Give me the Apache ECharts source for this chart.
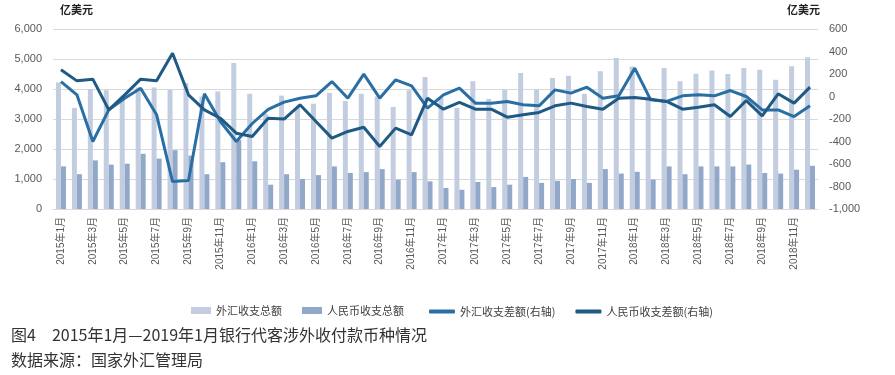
<!DOCTYPE html>
<html><head><meta charset="utf-8">
<script src="https://cdn.jsdelivr.net/npm/echarts@6/dist/echarts.min.js"></script>
<style>html,body{margin:0;padding:0;background:#fff}#c{width:895px;height:375px}</style>
</head><body><div id="c"></div>
<script>
const categories = [
  '2015年1月','2015年2月','2015年3月','2015年4月','2015年5月','2015年6月','2015年7月','2015年8月','2015年9月','2015年10月','2015年11月','2015年12月',
  '2016年1月','2016年2月','2016年3月','2016年4月','2016年5月','2016年6月','2016年7月','2016年8月','2016年9月','2016年10月','2016年11月','2016年12月',
  '2017年1月','2017年2月','2017年3月','2017年4月','2017年5月','2017年6月','2017年7月','2017年8月','2017年9月','2017年10月','2017年11月','2017年12月',
  '2018年1月','2018年2月','2018年3月','2018年4月','2018年5月','2018年6月','2018年7月','2018年8月','2018年9月','2018年10月','2018年11月','2018年12月'
];
// 外汇收支总额 (left axis)
const fxTotal = [4220,3370,4000,3960,3700,4050,4050,3980,4200,3750,3920,4870,
                 3840,3170,3780,3400,3510,3870,3600,3840,3750,3400,3960,4400,
                 3700,3370,4260,3670,3980,4530,3980,4370,4440,3840,4590,5030,
                 4750,3750,4700,4260,4510,4620,4500,4700,4640,4310,4760,5060];
// 人民币收支总额 (left axis)
const rmbTotal = [1420,1160,1620,1480,1510,1840,1680,1960,1780,1160,1560,2300,
                  1590,810,1160,1000,1130,1420,1200,1230,1330,980,1230,920,
                  700,640,900,730,810,1070,870,940,1000,870,1330,1180,
                  1240,980,1420,1160,1420,1420,1420,1480,1200,1180,1310,1440];
// 外汇收支差额 (right axis)
const fxBalance = [133,15,-400,-119,-15,74,-163,-756,-747,24,-222,-400,
                   -240,-115,-50,-15,6,133,-15,199,-15,148,95,-104,
                   15,74,-59,-59,-44,-74,-83,59,30,83,-15,6,
                   252,-30,-44,6,15,6,53,0,-119,-119,-178,-83];
// 人民币收支差额 (right axis)
const rmbBalance = [237,139,154,-119,15,154,139,385,15,-119,-193,-326,
                    -356,-193,-201,-74,-222,-370,-311,-273,-444,-281,-341,-15,
                    -113,-53,-113,-113,-184,-163,-142,-83,-59,-89,-113,-15,
                    -9,-24,-44,-113,-95,-74,-178,-36,-172,24,-59,83];
const leftAxis = {min: 0, max: 6000, interval: 1000};
const rightAxis = {min: -1000, max: 600, interval: 200};
const seriesNames = ['外汇收支总额','人民币收支总额','外汇收支差额(右轴)','人民币收支差额(右轴)'];
const unitText = '亿美元';
const captionTitle = '图4　2015年1月—2019年1月银行代客涉外收付款币种情况';
const captionSource = '数据来源：国家外汇管理局';

const FONT = 'Liberation Sans, Noto Sans CJK SC, sans-serif';
const CJK = 'Noto Sans CJK SC, sans-serif';
const chart = echarts.init(document.getElementById('c'), null, {renderer: 'canvas'});
const fmt = v => v.toLocaleString('en-US');
const legendText = {fontSize: 11, color: '#404040', fontFamily: CJK};
chart.setOption({
  animation: false,
  backgroundColor: '#fff',
  grid: {left: 53, right: 77, top: 29, bottom: 166, containLabel: false},
  title: [
    {text: captionTitle, left: 6, top: 322, textStyle: {fontSize: 16, fontWeight: 'normal', color: '#333', fontFamily: CJK}},
    {text: captionSource, left: 6, top: 347, textStyle: {fontSize: 16, fontWeight: 'normal', color: '#333', fontFamily: CJK}}
  ],
  graphic: [
    {type: 'text', left: 60, top: 4, style: {text: unitText, font: 'bold 11px Noto Sans CJK SC', fill: '#222'}},
    {type: 'text', left: 787, top: 4, style: {text: unitText, font: 'bold 11px Noto Sans CJK SC', fill: '#222'}}
  ],
  legend: [
    {left: 186, top: 300, itemWidth: 20, itemHeight: 7, itemGap: 20, textStyle: legendText,
     data: [{name: seriesNames[0], icon: 'rect'}, {name: seriesNames[1], icon: 'rect'}]},
    {left: 424, top: 301, itemWidth: 26, itemHeight: 4, itemGap: 20, textStyle: legendText,
     data: [{name: seriesNames[2], icon: 'roundRect'}, {name: seriesNames[3], icon: 'roundRect'}]}
  ],
  xAxis: {
    type: 'category', data: categories, boundaryGap: true,
    axisLine: {lineStyle: {color: '#d9d9d9', width: 1}},
    axisTick: {show: false},
    axisLabel: {interval: 1, rotate: 90, fontSize: 10, color: '#595959', fontFamily: FONT, margin: 8}
  },
  yAxis: [
    {type: 'value', min: leftAxis.min, max: leftAxis.max, interval: leftAxis.interval,
     axisLine: {show: false}, axisTick: {show: false},
     axisLabel: {fontSize: 11, color: '#595959', fontFamily: FONT, formatter: fmt, margin: 11},
     splitLine: {lineStyle: {color: '#d9d9d9', width: 1}}},
    {type: 'value', min: rightAxis.min, max: rightAxis.max, interval: rightAxis.interval,
     axisLine: {show: false}, axisTick: {show: false},
     axisLabel: {fontSize: 11, color: '#595959', fontFamily: FONT, formatter: fmt, margin: 11},
     splitLine: {show: false}}
  ],
  series: [
    {name: seriesNames[0], type: 'bar', data: fxTotal, barWidth: 5, barGap: '0%', itemStyle: {color: '#c3cde0'}},
    {name: seriesNames[1], type: 'bar', data: rmbTotal, barWidth: 5, barGap: '0%', itemStyle: {color: '#91a8c9'}},
    {name: seriesNames[2], type: 'line', yAxisIndex: 1, data: fxBalance, symbol: 'none', z: 5,
     lineStyle: {color: '#2a6fa3', width: 3}, itemStyle: {color: '#2a6fa3'}},
    {name: seriesNames[3], type: 'line', yAxisIndex: 1, data: rmbBalance, symbol: 'none', z: 6,
     lineStyle: {color: '#1f5a84', width: 3}, itemStyle: {color: '#1f5a84'}}
  ]
});
</script></body></html>
